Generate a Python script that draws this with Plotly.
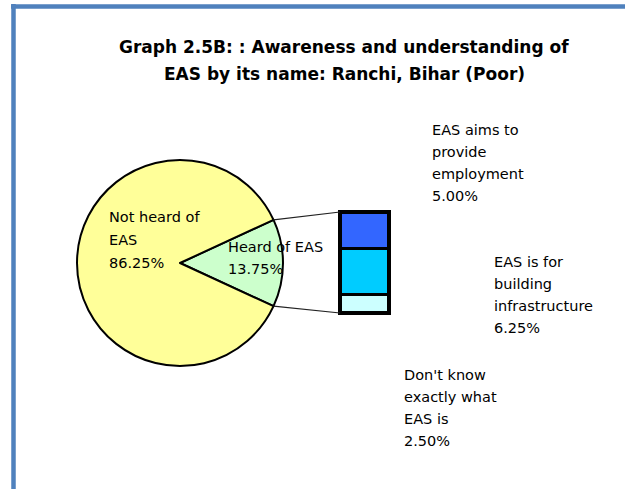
import math
import plotly.graph_objects as go

# ---------------- data ----------------
title_lines = ["Graph 2.5B: : Awareness and understanding of",
               "EAS by its name: Ranchi, Bihar (Poor)"]
pie_labels = ["Heard of EAS", "Not heard of EAS"]
pie_values = [13.75, 86.25]
pie_colors = ["#CCFFCC", "#FFFF99"]

bar_labels = ["Don't know exactly what EAS is",
              "EAS is for building infrastructure",
              "EAS aims to provide employment"]
bar_values = [2.50, 6.25, 5.00]
bar_colors = ["#CCFFFF", "#00CCFF", "#3366FF"]

# label text lines (as printed on the chart)
pie_label_lines = [["Heard of EAS"], ["Not heard of", "EAS"]]
bar_label_lines = [["Don't know", "exactly what", "EAS is"],
                   ["EAS is for", "building", "infrastructure"],
                   ["EAS aims to", "provide", "employment"]]

# ---------------- layout geometry (pixels) ----------------
W, H = 625, 489
FONT = "DejaVu Sans"
pie_cx, pie_cy, pie_r = 180, 263, 103
bar_x0, bar_x1, bar_y0, bar_y1 = 340, 389, 212, 313
PAD = 0.06  # fraction of axis padding so bar outlines are not clipped

def px(x):
    return x / W

def py(y):
    return 1 - y / H

fig = go.Figure()

# pie: small slice centered at 3 o'clock
heard_share = pie_values[0] / sum(pie_values)
rotation = 90 - 360 * heard_share / 2
fig.add_trace(go.Pie(
    labels=pie_labels, values=pie_values, sort=False, direction="clockwise",
    rotation=rotation, textinfo="none", hoverinfo="label+percent",
    marker=dict(colors=pie_colors, line=dict(color="black", width=2)),
    domain=dict(x=[px(pie_cx - pie_r), px(pie_cx + pie_r)],
                y=[py(pie_cy + pie_r), py(pie_cy - pie_r)]),
    showlegend=False,
))

# stacked bar (bar-of-pie)
for lab, val, col in zip(bar_labels, bar_values, bar_colors):
    fig.add_trace(go.Bar(
        x=[0], y=[val], name=lab, marker=dict(color=col, line=dict(color="black", width=3.5)),
        width=1, xaxis="x2", yaxis="y2", showlegend=False, hoverinfo="name+y",
    ))

total = sum(bar_values)
bw = bar_x1 - bar_x0
bh = bar_y1 - bar_y0
fig.update_layout(
    barmode="stack",
    width=W, height=H,
    margin=dict(l=0, r=0, t=0, b=0),
    paper_bgcolor="white", plot_bgcolor="rgba(0,0,0,0)",
    xaxis2=dict(domain=[px(bar_x0 - PAD * bw), px(bar_x1 + PAD * bw)],
                range=[-0.5 - PAD, 0.5 + PAD], visible=False, anchor="y2", fixedrange=True),
    yaxis2=dict(domain=[py(bar_y1 + PAD * bh), py(bar_y0 - PAD * bh)],
                range=[-PAD * total, total * (1 + PAD)], visible=False, anchor="x2",
                fixedrange=True),
    xaxis=dict(visible=False), yaxis=dict(visible=False),
)

shapes = []
# connector lines from slice edges to bar corners
half = math.radians(360 * heard_share / 2)
ex = pie_cx + pie_r * math.cos(half)
ey_top = pie_cy - pie_r * math.sin(half)
ey_bot = pie_cy + pie_r * math.sin(half)
for (sx, sy), (tx, ty) in [((ex, ey_top), (bar_x0, bar_y0)), ((ex, ey_bot), (bar_x0, bar_y1))]:
    shapes.append(dict(type="line", xref="paper", yref="paper",
                       x0=px(sx), y0=py(sy), x1=px(tx), y1=py(ty),
                       line=dict(color="#222222", width=1.2)))
# blue chart-area frame (cropped on right and bottom)
frame = "#4F81BD"
shapes.append(dict(type="line", xref="paper", yref="paper", x0=px(13.5), x1=px(13.5),
                   y0=py(4), y1=py(H + 5), line=dict(color=frame, width=4.5)))
shapes.append(dict(type="line", xref="paper", yref="paper", x0=px(11), x1=px(W + 5),
                   y0=py(6.5), y1=py(6.5), line=dict(color=frame, width=4.5)))
fig.update_layout(shapes=shapes)

annotations = []

def add_block(lines, x, y0, size=14.5, dy=22, bold=False, anchor="left"):
    for i, t in enumerate(lines):
        txt = f"<b>{t}</b>" if bold else t
        annotations.append(dict(text=txt, x=px(x), y=py(y0 + i * dy), xref="paper", yref="paper",
                                xanchor=anchor, yanchor="middle", showarrow=False,
                                font=dict(family=FONT, size=size, color="black")))

add_block(title_lines, 344, 47, size=17, dy=27, bold=True, anchor="center")

fmt = lambda v: f"{v:.2f}%"
add_block(pie_label_lines[1] + [fmt(pie_values[1])], 107, 217, dy=23)
add_block(pie_label_lines[0] + [fmt(pie_values[0])], 226, 247, dy=22)
add_block(bar_label_lines[2] + [fmt(bar_values[2])], 430, 130, dy=22)
add_block(bar_label_lines[1] + [fmt(bar_values[1])], 492, 262, dy=22)
add_block(bar_label_lines[0] + [fmt(bar_values[0])], 402, 375, dy=22)

fig.update_layout(annotations=annotations)

fig.write_html("out.html", config={"displayModeBar": False},
               post_script="document.body.style.margin='0px';document.body.style.overflow='hidden';")
